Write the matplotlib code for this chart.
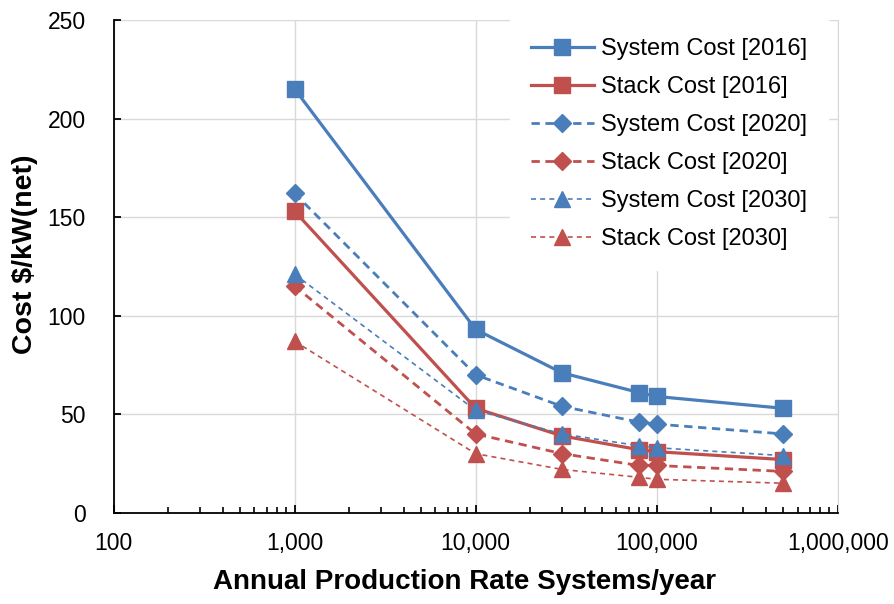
import matplotlib.pyplot as plt
from matplotlib.ticker import FuncFormatter, LogLocator, NullFormatter

# production rates (systems/year)
rates = [1000, 10000, 30000, 80000, 100000, 500000]

system_2016 = [215, 93, 71, 61, 59, 53]
stack_2016 = [153, 53, 39, 32, 31, 27]
system_2020 = [162, 70, 54, 46, 45, 40]
stack_2020 = [115, 40, 30, 24, 24, 21]
system_2030 = [121, 52, 40, 34, 33, 29]
stack_2030 = [87, 30, 22, 18, 17, 15]

BLUE = '#4A7EBB'
RED = '#C0504D'

plt.rcParams['font.family'] = ['Liberation Sans', 'DejaVu Sans']

fig, ax = plt.subplots(figsize=(8.94, 6.04), dpi=100)
fig.subplots_adjust(left=0.127, right=0.937, top=0.967, bottom=0.151)

series = [
    (system_2016, 'System Cost [2016]', BLUE, '-', 's', 2.3, 12),
    (stack_2016, 'Stack Cost [2016]', RED, '-', 's', 2.3, 12),
    (system_2020, 'System Cost [2020]', BLUE, (0, (3, 2)), 'D', 2.0, 9.5),
    (stack_2020, 'Stack Cost [2020]', RED, (0, (3, 2)), 'D', 2.0, 9),
    (system_2030, 'System Cost [2030]', BLUE, (0, (3, 2.5)), '^', 1.2, 12),
    (stack_2030, 'Stack Cost [2030]', RED, (0, (3, 2.5)), '^', 1.2, 12),
]
for vals, label, color, ls, mk, lw, ms in series:
    ax.plot(rates, vals, color=color, linestyle=ls, linewidth=lw, marker=mk,
            markersize=ms, label=label, zorder=3)

ax.set_xscale('log')
ax.set_xlim(100, 1000000)
ax.set_ylim(0, 250)
ax.set_yticks(range(0, 251, 50))
ax.xaxis.set_major_locator(LogLocator(base=10, numticks=10))
ax.xaxis.set_major_formatter(FuncFormatter(lambda v, p: f'{int(round(v)):,}'))
ax.xaxis.set_minor_locator(LogLocator(base=10, subs=range(2, 10), numticks=20))
ax.xaxis.set_minor_formatter(NullFormatter())

ax.grid(True, which='major', color='#D9D9D9', linewidth=1.0)
ax.set_axisbelow(True)
ax.spines['top'].set_visible(False)
ax.spines['right'].set_color('#D9D9D9')
for side in ['left', 'bottom']:
    ax.spines[side].set_color('black')
    ax.spines[side].set_linewidth(1.3)

ax.tick_params(axis='y', direction='in', length=5, width=1.3, labelsize=16.5, pad=20)
ax.tick_params(axis='x', which='major', direction='in', length=6, width=1.3,
               labelsize=16.5, pad=14)
ax.tick_params(axis='x', which='minor', direction='in', length=4, width=1.2)

ax.set_xlabel('Annual Production Rate Systems/year', fontsize=20, fontweight='bold',
              labelpad=10)
ax.xaxis.set_label_coords(0.484, -0.115)
ax.set_ylabel('Cost $/kW(net)', fontsize=20.5, fontweight='bold')
ax.yaxis.set_label_coords(-0.104, 0.525)

# legend box has a white fill but no visible border
leg = ax.legend(loc='upper right', bbox_to_anchor=(0.986, 1.004), fontsize=17,
                fancybox=False, facecolor='white', edgecolor='white', framealpha=1,
                handlelength=2.7, handletextpad=0.3, labelspacing=0.68,
                borderaxespad=0, borderpad=0.85)

plt.savefig('out.png', dpi=100)
